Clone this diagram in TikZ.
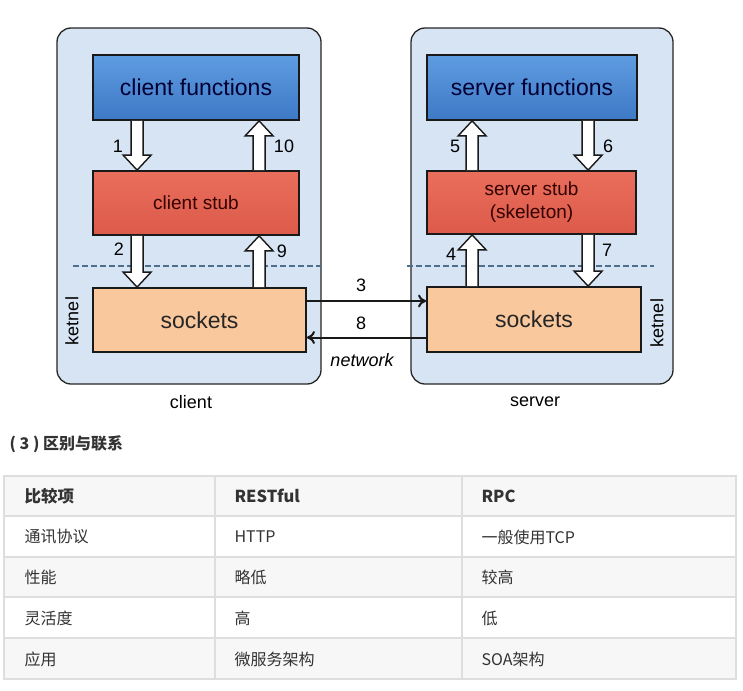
\documentclass[tikz,border=0pt]{standalone}
\usepackage{fontspec}
\setmainfont{Liberation Sans}
\newfontfamily\cjk{Noto Sans CJK SC}
\usetikzlibrary{arrows.meta,calc}
\definecolor{outerblue}{HTML}{D6E4F4}
\definecolor{funtop}{HTML}{5E9CE0}
\definecolor{funbot}{HTML}{3E79C6}
\definecolor{stubtop}{HTML}{EA6E5C}
\definecolor{stubbot}{HTML}{DC5A4A}
\definecolor{sockfill}{HTML}{FAC89D}
\definecolor{dashblue}{HTML}{4E6E8E}
\definecolor{tabline}{HTML}{DEDEDE}
\definecolor{tabgray}{HTML}{F7F7F7}
\definecolor{tabtext}{HTML}{333333}
\tikzset{
  side/.style={draw=black!85, fill=outerblue, line width=1.3pt, rounded corners=14pt},
  box/.style={draw=black!90, line width=1.8pt, font=\fontsize{23}{26}\selectfont},
  funbox/.style={box, top color=funtop, bottom color=funbot, text=black!80!blue},
  stubbox/.style={box, top color=stubtop, bottom color=stubbot, text=black!80!red,
    font=\fontsize{19}{23}\selectfont, align=center},
  sockbox/.style={box, fill=sockfill, text=black!85},
  num/.style={font=\fontsize{18}{20}\selectfont},
  fat/.style={draw=black!90, fill=white, line width=1.4pt,
    to path={let \p1=(\tikztostart), \p2=(\tikztotarget), \n1={sign(\y2-\y1)*15} in
      (\x1-6pt,\y1) -- (\x1-6pt,\y2-\n1*1pt) -- (\x1-14pt,\y2-\n1*1pt) -- (\x1,\y2)
      -- (\x1+14pt,\y2-\n1*1pt) -- (\x1+6pt,\y2-\n1*1pt) -- (\x1+6pt,\y1)}},
  net/.style={draw=black!90, line width=2pt, -{To[length=8pt,width=13pt]}},
  cell/.style={anchor=west, text=tabtext, font=\cjk\fontsize{16}{18}\selectfont},
}
\begin{document}
\begin{tikzpicture}[x=1pt, y=-1pt]
    \useasboundingbox (0,0) rectangle (743,690);
    \fill[white] (0,0) rectangle (743,690);
    \node[side, minimum width=264pt, minimum height=356pt] (client) at (189,206) {};
    \node[side, minimum width=262pt, minimum height=356pt] (server) at (542,206) {};
    \draw[dashblue, line width=1.7pt, dash pattern=on 6pt off 3pt] (73,266) -- (321,266);
    \draw[dashblue, line width=1.7pt, dash pattern=on 6pt off 3pt] (407,266) -- (654,266);

    \node[funbox, minimum width=206pt, minimum height=65pt] (cf) at (196,87.5) {client functions};
    \node[stubbox, minimum width=206pt, minimum height=64pt] (cs) at (196,203) {client stub};
    \node[sockbox, minimum width=213pt, minimum height=64pt] (ck) at (199.5,320) {sockets};
    \node[funbox, minimum width=210pt, minimum height=65pt] (sf) at (532,87.5) {server functions};
    \node[stubbox, minimum width=209pt, minimum height=63pt] (ss) at (531.5,202.5) {server stub\\(skeleton)};
    \node[sockbox, minimum width=214pt, minimum height=65pt] (sk) at (534,319.5) {sockets};

    \draw[fat] ([xshift=45pt]cf.south west) to ([xshift=45pt]cs.north west);
    \draw[fat] ([xshift=167pt]cs.north west) to ([xshift=167pt]cf.south west);
    \draw[fat] ([xshift=45pt]cs.south west) to ([xshift=45pt]ck.north west);
    \draw[fat] ([xshift=167pt]ck.north west) to ([xshift=167pt]cs.south west);
    \draw[fat] ([xshift=46pt]ss.north west) to ([xshift=46pt]sf.south west);
    \draw[fat] ([xshift=162pt]sf.south west) to ([xshift=162pt]ss.north west);
    \draw[fat] ([xshift=46pt]sk.north west) to ([xshift=46pt]ss.south west);
    \draw[fat] ([xshift=162pt]ss.south west) to ([xshift=162pt]sk.north west);

    \node[num] (n1) at (118,146) {1};
    \node[num] (n10) at (284,146) {10};
    \node[num] (n2) at (119,249) {2};
    \node[num] (n9) at (282,251) {9};
    \node[num] (n5) at (455,146) {5};
    \node[num] (n6) at (608,146) {6};
    \node[num] (n4) at (451,254) {4};
    \node[num] (n7) at (607,250) {7};

    \draw[net] ([yshift=19pt]ck.east) -- ([yshift=19pt]ck.east -| sk.west);
    \draw[net] ([yshift=-18pt]sk.west) -- ([yshift=-18pt]sk.west -| ck.east);
    \node[num] (n3) at (361,285) {3};
    \node[num] (n8) at (361,323) {8};
    \node[num, font=\fontsize{18}{20}\selectfont\itshape] (net) at (362,360) {network};

    \node[num, rotate=90] (kc) at (72,321) {ketnel};
    \node[num, rotate=90] (ks) at (657,323) {ketnel};
    \node[num] (cl) at (191,402) {client};
    \node[num] (sv) at (535,402) {server};

    \node[cell, font=\cjk\bfseries\fontsize{16}{18}\selectfont] (title) at (6,444) {( 3 ) 区别与联系};

    \fill[tabgray] (4,476) rectangle (736,516);
    \fill[tabgray] (4,557) rectangle (736,597);
    \fill[tabgray] (4,638) rectangle (736,679);
    \draw[tabline, line width=2.5pt] (4,476) rectangle (736,679);
    \foreach \y in {516,557,597,638}
        \draw[tabline, line width=2.5pt] (4,\y) -- (736,\y);
    \foreach \x in {215,462}
        \draw[tabline, line width=2.5pt] (\x,476) -- (\x,679);

    \node[cell, font=\cjk\bfseries\fontsize{16.5}{18}\selectfont] (h1) at (21,496) {比较项};
    \node[cell, font=\cjk\bfseries\fontsize{16.5}{18}\selectfont] (h2) at (231,496) {RESTful};
    \node[cell, font=\cjk\bfseries\fontsize{16.5}{18}\selectfont] (h3) at (478,496) {RPC};
    \node[cell] (a1) at (21,537) {通讯协议};
    \node[cell] (a2) at (231,537) {HTTP};
    \node[cell] (a3) at (478,537) {一般使用TCP};
    \node[cell] (b1) at (21,577) {性能};
    \node[cell] (b2) at (231,577) {略低};
    \node[cell] (b3) at (478,577) {较高};
    \node[cell] (c1) at (21,618) {灵活度};
    \node[cell] (c2) at (231,618) {高};
    \node[cell] (c3) at (478,618) {低};
    \node[cell] (d1) at (21,659) {应用};
    \node[cell] (d2) at (231,659) {微服务架构};
    \node[cell] (d3) at (478,659) {SOA架构};
\end{tikzpicture}
\end{document}
